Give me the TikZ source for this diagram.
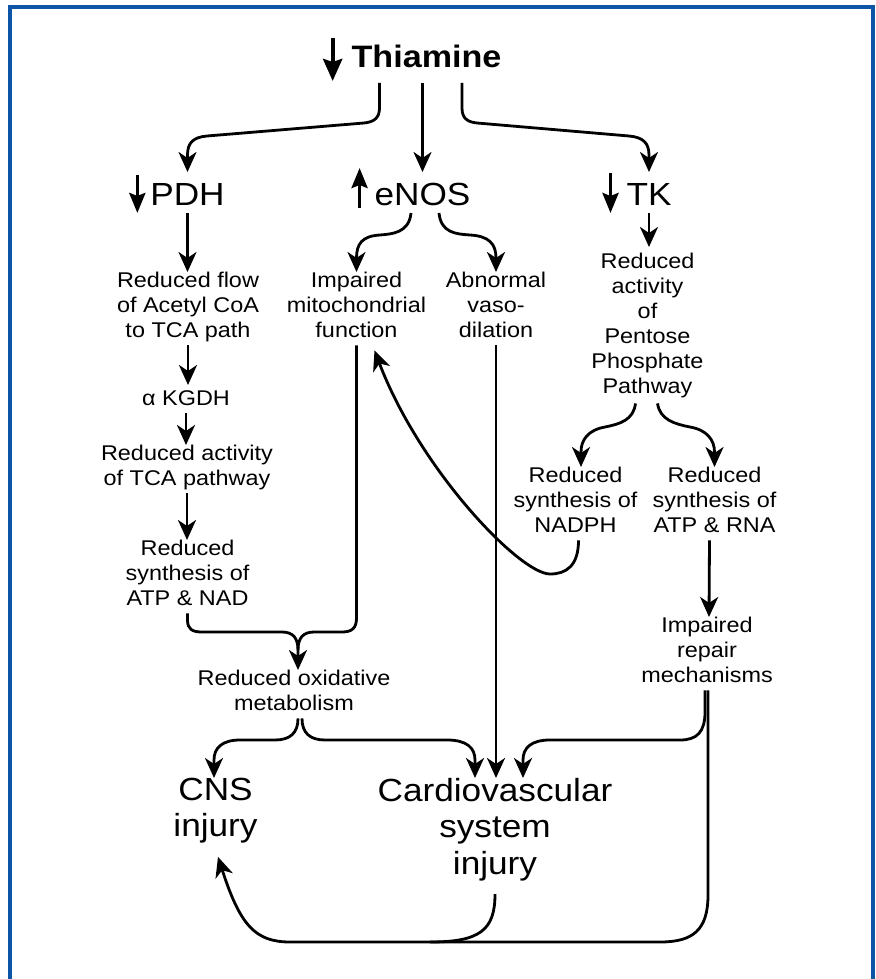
\documentclass[tikz,border=0pt]{standalone}
\usepackage{fontspec}
\setmainfont{Liberation Sans}[FakeStretch=1.1]
\usetikzlibrary{arrows.meta,calc}
\definecolor{frameblue}{RGB}{12,84,166}
\begin{document}
\begin{tikzpicture}[x=1pt,y=-1pt,
  arr/.style={line width=2.8pt,-{Stealth[length=20pt,width=18pt,inset=6pt]}},
  ln/.style={line width=2.8pt},
  lbl/.style={line width=3.6pt,-{Stealth[length=20pt,width=16pt,inset=3pt]}},
  lblb/.style={line width=4.2pt,-{Stealth[length=22pt,width=19pt,inset=3pt]}},
  small/.style={font=\fontsize{21.3}{25}\selectfont,align=center,inner sep=0pt,outer sep=0pt,
     execute at begin node={\rule{0pt}{20pt}},execute at end node={\rule[-8pt]{0pt}{8pt}}},
  big/.style={font=\fontsize{32}{36.5}\selectfont,align=center,inner sep=0pt,outer sep=0pt,
     execute at begin node={\rule{0pt}{33pt}},execute at end node={\rule[-8pt]{0pt}{8pt}}},
  bigd/.style={font=\fontsize{32}{36.5}\selectfont,align=center,inner sep=0pt,outer sep=0pt,
     execute at begin node={\rule{0pt}{33pt}},execute at end node={\rule[-20pt]{0pt}{20pt}}},
  thm/.style={font=\fontsize{31}{36}\selectfont\bfseries,inner sep=0pt,outer sep=0pt,
     execute at end node={\rule[-15pt]{0pt}{15pt}}},
]
\useasboundingbox (0,0) rectangle (875,979);
\fill[white] (0,0) rectangle (875,979);
\begin{scope}
\clip (0,0) rectangle (875,979);
\draw[line width=4pt,frameblue] (10,7) rectangle (873,1010);
\end{scope}

% nodes
\node[thm,anchor=base] (thiamine) at (426.5,68) {Thiamine};
\node[big,anchor=base] (pdh) at (187.5,205) {PDH};
\node[big,anchor=base] (enos) at (422.5,205) {eNOS};
\node[big,anchor=base] (tk) at (649,205) {TK};
\node[small,anchor=north] (flow) at (188,272) {Reduced flow\\of Acetyl CoA\\to TCA path};
\node[small,anchor=north] (kgdh) at (186,385) {α KGDH};
\node[small,anchor=north] (act) at (187,445) {Reduced activity\\of TCA pathway};
\node[small,anchor=north] (nad) at (187.5,540) {Reduced\\synthesis of\\ATP \& NAD};
\node[small,anchor=north] (mito) at (356.5,272) {Impaired\\mitochondrial\\function};
\node[small,anchor=north] (abn) at (496,272) {Abnormal\\vaso-\\dilation};
\node[small,anchor=north] (ppp) at (647.5,253) {Reduced\\activity\\of\\Pentose\\Phosphate\\Pathway};
\node[small,anchor=north] (nadph) at (575.5,467) {Reduced\\synthesis of\\NADPH};
\node[small,anchor=north] (atprna) at (714.5,467) {Reduced\\synthesis of\\ATP \& RNA};
\node[small,anchor=north] (repair) at (707,617) {Impaired\\repair\\mechanisms};
\node[small,anchor=north] (ox) at (294,670) {Reduced oxidative\\metabolism};
\node[bigd,anchor=north] (cns) at (215.5,778) {CNS\\injury};
\node[bigd,anchor=north] (cardio) at (495,778) {Cardiovascular\\system\\injury};

% up/down markers
\draw[lblb] ($(thiamine.base west)+(-19,-30)$) -- ($(thiamine.base west)+(-19,13)$);
\draw[lbl] ($(pdh.base west)+(-13,-30)$) -- ($(pdh.base west)+(-13,8)$);
\draw[lbl] ($(enos.base west)+(-15,3)$) -- ($(enos.base west)+(-15,-37)$);
\draw[lbl] ($(tk.base west)+(-16,-32)$) -- ($(tk.base west)+(-16,8)$);

% thiamine branches
\draw[arr] ($(thiamine.south)+(-47,0)$) -- (379.5,108) .. controls (379.5,118) and (374,122) .. (364,123)
  -- (207,136) .. controls (193,137.2) and (187.5,143) .. (187.5,155) -- (pdh.north);
\draw[arr] (thiamine.south -| enos.north) -- (enos.north);
\draw[arr] ($(thiamine.south)+(35.5,0)$) -- (462,108) .. controls (462,118) and (467,122) .. (477,123)
  -- (629,136) .. controls (643,137.2) and (649,143) .. (649,155) -- (tk.north);

% PDH column
\draw[arr] (pdh.south) -- (pdh.south |- flow.north);
\draw[arr] (flow.south) -- (flow.south |- kgdh.north);
\draw[arr] (kgdh.south) -- (kgdh.south |- act.north);
\draw[arr] (act.south) -- (act.south |- nad.north);

% eNOS branches
\draw[arr] ($(enos.south)+(-11.5,0)$) .. controls (409,233) and (392,234) .. (380,235)
  .. controls (362,236) and (356.5,244) .. (356.5,258) -- (mito.north);
\draw[arr] ($(enos.south)+(16.5,0)$) .. controls (441,233) and (456,234) .. (470,235)
  .. controls (489,236) and (496,244) .. (496,258) -- (abn.north);
\draw[arr] (abn.south) -- (abn.south |- cardio.north);

% TK column
\draw[arr] (tk.south) -- ($(tk.south |- ppp.north)+(0,-6)$);
\draw[arr] ($(ppp.south)+(-12,2)$) .. controls (633.5,420) and (620,424) .. (605,427)
  .. controls (588,430) and (581,440) .. (581,452) -- ($(nadph.north)+(5.5,0)$);
\draw[arr] ($(ppp.south)+(10,2)$) .. controls (660,420) and (675,424) .. (690,427)
  .. controls (707,430) and (714.5,440) .. (714.5,452) -- (atprna.north);
\draw[arr] ($(atprna.south)+(-5,0)$) -- ($(repair.north)+(2,0)$);
\draw[arr] ($(nadph.south)+(3,0)$) .. controls (578.5,566) and (566,574) .. (550,574)
  .. controls (520,574) and (420,470) .. ($(mito.south)+(18,5)$);

% to reduced oxidative metabolism
\draw[ln] (nad.south) -- (187.5,620) .. controls (187.5,629) and (192,632) .. (202,632)
  -- (282,632) .. controls (293,632) and (298,638) .. (298,650);
\draw[arr] (mito.south) -- (356.5,618) .. controls (356.5,628) and (352,632) .. (342,632)
  -- (314,632) .. controls (303,632) and (298,638) .. (298,650) -- ($(ox.north)+(4,0)$);

% from reduced oxidative metabolism
\draw[arr] ($(ox.south)+(4,0)$) .. controls (298,733) and (290,740) .. (275,740) -- (240,740)
  .. controls (222,740) and (214,748) .. (214,760) -- ($(cns.north)+(-1.5,0)$);
\draw[arr] ($(ox.south)+(8,0)$) .. controls (302,733) and (310,740) .. (325,740) -- (447,740)
  .. controls (467,740) and (475,748) .. (475,760) -- ($(cardio.north)+(-20,0)$);

% repair to cardio
\draw[arr] ($(repair.south)+(-2,0)$) -- (705,712) .. controls (705,732) and (697,740) .. (680,740)
  -- (550,740) .. controls (531,740) and (523,748) .. (523,760) -- ($(cardio.north)+(28,0)$);

% bottom loop to CNS
\draw[ln] ($(repair.south)+(1,0)$) -- (708,895) .. controls (708,930) and (693,942) .. (660,942) -- (430,942);
\draw[arr] (cardio.south) .. controls (495,930) and (480,942) .. (430,942) -- (290,942)
  .. controls (255,942) and (240,925) .. ($(cns.south)+(2.5,0)$);
\end{tikzpicture}
\end{document}
